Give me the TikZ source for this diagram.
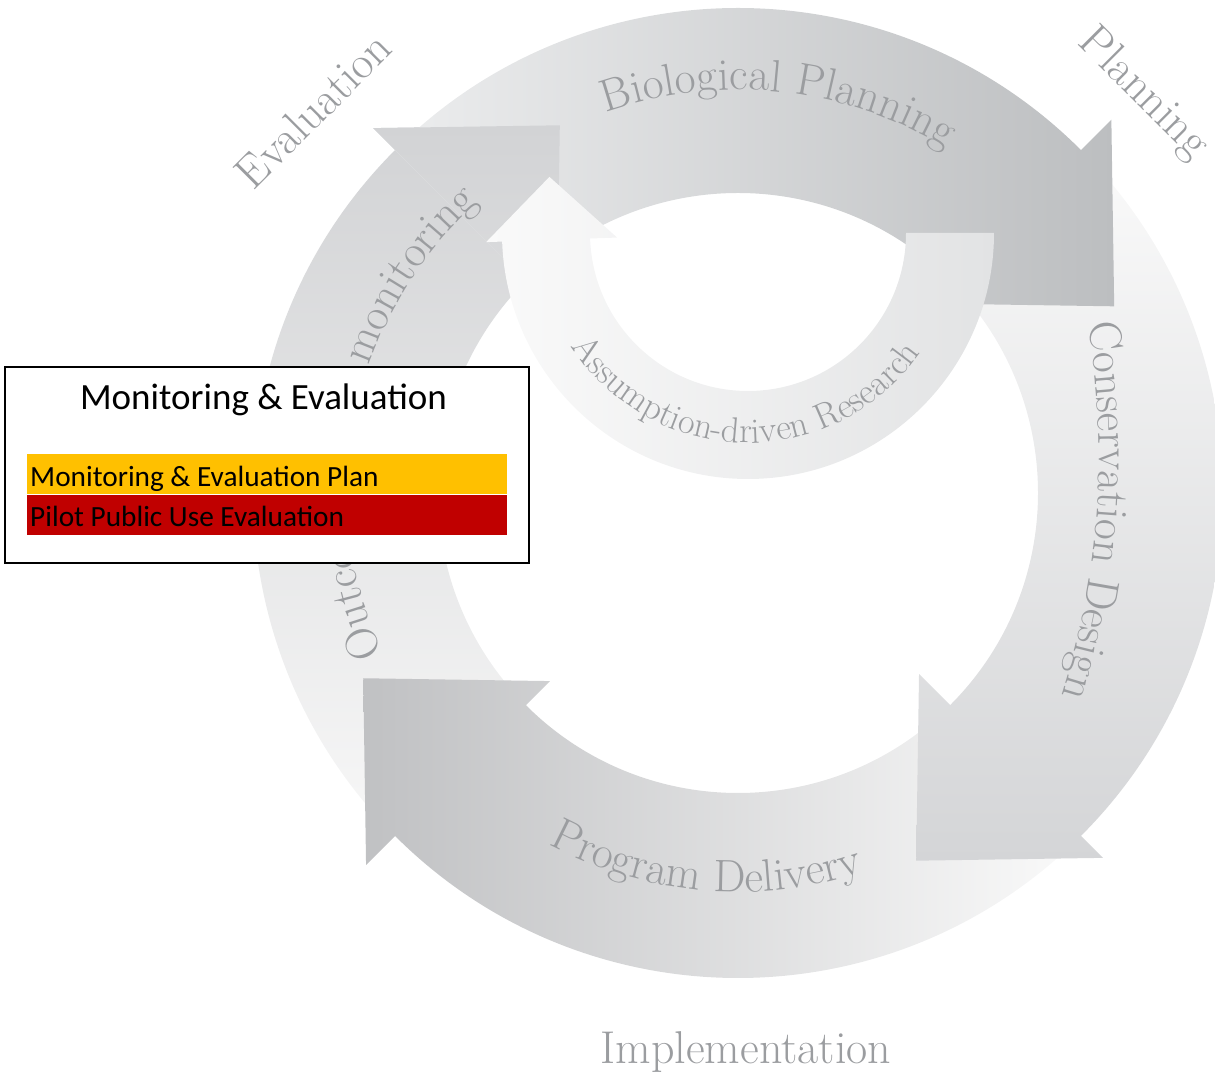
\documentclass[tikz,border=0pt]{standalone}
\usepackage{fontspec}
\newfontfamily\boxfont{Carlito}
\usetikzlibrary{calc,decorations.text}

\definecolor{labgray}{RGB}{155,157,160}
\definecolor{bplight}{RGB}{236,237,238}
\definecolor{bpdark}{RGB}{188,190,192}
\definecolor{cdlight}{RGB}{250,250,250}
\definecolor{cddark}{RGB}{212,213,215}
\definecolor{pdlight}{RGB}{250,250,250}
\definecolor{pddark}{RGB}{192,193,195}
\definecolor{omlight}{RGB}{247,247,247}
\definecolor{omdark}{RGB}{210,211,213}
\definecolor{adrtail}{RGB}{226,227,228}
\definecolor{adrhead}{RGB}{250,250,250}
\definecolor{planyellow}{RGB}{255,192,0}
\definecolor{pilotred}{RGB}{192,0,0}

\newcommand\bandfont{\fontsize{45.5}{45.5}\selectfont\color{labgray}}
\newcommand\adrfont{\fontsize{36}{36}\selectfont\color{labgray}}

\begin{document}
\begin{tikzpicture}[x=1pt,y=1pt,
    outerlabel/.style={font=\fontsize{46}{46}\selectfont, text=labgray, inner sep=0pt},
    ringtext/.style={decorate, decoration={text along path, text align=center, text={|\bandfont|#1}}},
    adrtext/.style={decorate, decoration={text along path, text align=center, text={|\adrfont|#1}}},
    bartext/.style={font=\boxfont\fontsize{29.3}{29.3}\selectfont, inner sep=0pt},
    mebar/.style={minimum width=480, minimum height=40, inner sep=0pt, anchor=north west}]

  % Define ring and arrow head sizes.
  \def\rin{300}     %inner radius of the ring.
  \def\rout{485}    %outer radius of the ring.
  \def\hb{130}      %half width of an arrow head.
  \def\hl{134}      %length of an arrow head.
  \def\bpr{398}     %head base radius, Biological Planning.
  \def\cdr{386}     %head base radius, Conservation Design.
  \def\pdr{396}     %head base radius, Program Delivery.
  \def\omr{386}     %head base radius, Outcome-based monitoring.

  \useasboundingbox (0,0) rectangle (1215,1076);
  \coordinate (C) at (738,583);    %centre of the ring.
  \coordinate (A) at (748,843);    %centre of the research arc.
  \coordinate (D) at (299,621);    %centre of the Conservation Design text arc.

  % OUTCOME-BASED MONITORING
  \shade[bottom color=omlight, top color=omdark] ($(C)+(225:\rin)$) -- ($(C)+(225:\rout)$)
     arc[start angle=225, end angle=135, radius=\rout] -- ($(C)+(135:{\omr+\hb})$)
     -- ($(C)+(135:\omr)+(45:\hl)$) -- ($(C)+(135:{\omr-\hb})$) -- ($(C)+(135:\rin)$)
     arc[start angle=135, end angle=225, radius=\rin] -- cycle;
  % PROGRAM DELIVERY
  \shade[right color=pdlight, left color=pddark] ($(C)+(-45:\rin)$) -- ($(C)+(-45:\rout)$)
     arc[start angle=-45, end angle=-135, radius=\rout] -- ($(C)+(-135:{\pdr+\hb})$)
     -- ($(C)+(-135:\pdr)+(135:\hl)$) -- ($(C)+(-135:{\pdr-\hb})$) -- ($(C)+(-135:\rin)$)
     arc[start angle=-135, end angle=-45, radius=\rin] -- cycle;
  % CONSERVATION DESIGN
  \shade[top color=cdlight, bottom color=cddark] ($(C)+(45:\rin)$) -- ($(C)+(45:\rout)$)
     arc[start angle=45, end angle=-45, radius=\rout] -- ($(C)+(-45:{\cdr+\hb})$)
     -- ($(C)+(-45:\cdr)+(-135:\hl)$) -- ($(C)+(-45:{\cdr-\hb})$) -- ($(C)+(-45:\rin)$)
     arc[start angle=-45, end angle=45, radius=\rin] -- cycle;
  % BIOLOGICAL PLANNING
  \shade[left color=bplight, right color=bpdark] ($(C)+(135:\rin)$) -- ($(C)+(135:\rout)$)
     arc[start angle=135, end angle=45, radius=\rout] -- ($(C)+(45:{\bpr+\hb})$)
     -- ($(C)+(45:\bpr)+(-45:\hl)$) -- ($(C)+(45:{\bpr-\hb})$) -- ($(C)+(45:\rin)$)
     arc[start angle=45, end angle=135, radius=\rin] -- cycle;
  % head of the monitoring arrow once more, over the tail of planning
  \begin{scope}
    \clip ($(C)+(135:{\omr+\hb})$) -- ($(C)+(135:\omr)+(45:\hl)$) -- ($(C)+(135:{\omr-\hb})$) -- cycle;
    \shade[bottom color=omlight, top color=omdark] ($(C)+(225:\rin)$) -- ($(C)+(225:\rout)$)
       arc[start angle=225, end angle=135, radius=\rout] -- ($(C)+(135:{\omr+\hb})$)
       -- ($(C)+(135:\omr)+(45:\hl)$) -- ($(C)+(135:{\omr-\hb})$) -- ($(C)+(135:\rin)$)
       arc[start angle=135, end angle=225, radius=\rin] -- cycle;
  \end{scope}
  % ASSUMPTION-DRIVEN RESEARCH
  \shade[left color=adrhead, right color=adrtail] ($(A)+(0:158)$) -- ($(A)+(0:246)$)
     arc[start angle=0, end angle=-178, radius=246] -- ($(A)+(-178:262)$)
     -- ($(A)+(-178:196.5)+(92:63)$) -- ($(A)+(-178:131)$) -- ($(A)+(-178:158)$)
     arc[start angle=-178, end angle=0, radius=158] -- cycle;

  % Curved labels along the arrows.
  \path[ringtext={Biological Planning}] ($(C)+(134:403)$) arc[start angle=134, end angle=34, radius=403];
  \path[ringtext={Conservation Design}] ($(D)+(26:800)$) arc[start angle=26, end angle=-34, radius=800];
  \path[ringtext={Program Delivery}] ($(C)+(215:399)$) arc[start angle=215, end angle=315, radius=399];
  \path[ringtext={Outcome-based monitoring}] ($(C)+(218:390)$) arc[start angle=218, end angle=118, radius=390];
  \path[adrtext={Assumption-driven Research}] ($(A)+(200:210)$) arc[start angle=200, end angle=338, radius=210];

  % Stage names round the ring.
  \node (evaluation) [outerlabel, rotate=45] at (313,966) {Evaluation};
  \node (planning) [outerlabel, rotate=-45] at (1143,982) {Planning};
  \node (implementation) [outerlabel, anchor=base] at (746,13) {Implementation};

  % MONITORING & EVALUATION box
  \node (mebox) [draw=black, line width=2pt, fill=white, minimum width=524, minimum height=196, inner sep=0pt] at (266.5,611) {};
  \node (metitle) [font=\boxfont\fontsize{37}{37}\selectfont, inner sep=0pt, anchor=base] at (263.5,666) {Monitoring \& Evaluation};
  \node (planbar) [mebar, fill=planyellow] at (27,622) {};
  \node (pilotbar) [mebar, fill=pilotred] at (planbar.south west) {};
  \node (plantext) [bartext, anchor=base west] at ([shift={(3,8)}]planbar.south west) {Monitoring \& Evaluation Plan};
  \node (pilottext) [bartext, anchor=base west] at ([shift={(3,8)}]pilotbar.south west) {Pilot Public Use Evaluation};
\end{tikzpicture}
\end{document}
